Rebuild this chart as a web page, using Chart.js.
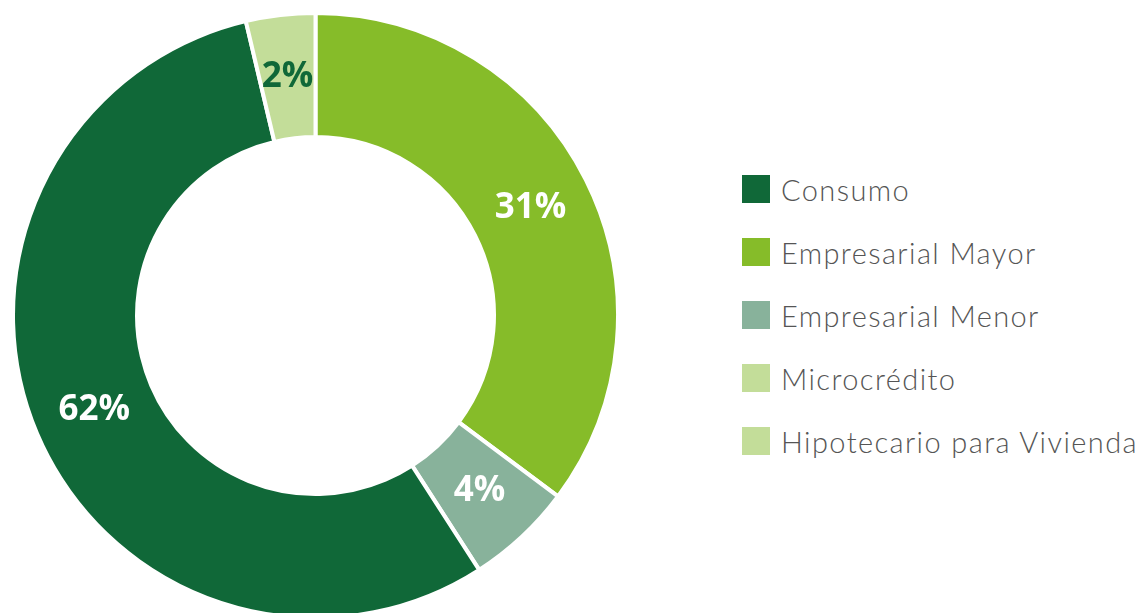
<!DOCTYPE html>
<html lang="es">
<head>
<meta charset="utf-8">
<title>Cartera por modalidad</title>
<script src="https://cdn.jsdelivr.net/npm/chart.js@4/dist/chart.umd.min.js"></script>
<style>
    html, body {
        margin: 0;
        padding: 0;
        width: 1142px;
        height: 613px;
        overflow: hidden;
        background: #ffffff;
    }
    #chartBox {
        position: absolute;
        left: 11px;
        top: 11px;
        width: 609px;
        height: 609px;
    }
    #legend {
        position: absolute;
        left: 742px;
        top: 175px;
        margin: 0;
        padding: 0;
        list-style: none;
        font-family: Lato, "Open Sans", sans-serif;
        font-weight: 300;
        font-size: 29px;
        letter-spacing: 1.4px;
        color: #555555;
    }
    #legend li {
        display: flex;
        align-items: center;
        height: 28px;
        margin-bottom: 35px;
        white-space: nowrap;
    }
    #legend .box {
        width: 28px;
        height: 28px;
        margin-right: 11px;
        flex: none;
    }
</style>
</head>
<body>
<div id="chartBox"><canvas id="carteraChart"></canvas></div>
<ul id="legend"></ul>

<script>
// categorias en el orden en que se dibujan (sentido horario desde arriba)
const categorias = ['Empresarial Mayor', 'Empresarial Menor', 'Consumo', 'Microcrédito', 'Hipotecario para Vivienda'];
// tamaño de cada porción
const valores = [35.2, 5.7, 55.4, 0, 3.7];
// etiquetas que muestra cada porción
const etiquetas = ['31%', '4%', '62%', '', '2%'];
const colores = ['#86bc29', '#88b29b', '#106838', '#c3dd99', '#c3dd99'];
const coloresEtiqueta = ['#ffffff', '#ffffff', '#ffffff', '#ffffff', '#106838'];
// orden de la leyenda
const ordenLeyenda = ['Consumo', 'Empresarial Mayor', 'Empresarial Menor', 'Microcrédito', 'Hipotecario para Vivienda'];

let carteraChart = null;

document.addEventListener('DOMContentLoaded', function() {
    drawChart();
    buildLegend();
});

// etiquetas dentro de cada porción
const sliceLabels = {
    id: 'sliceLabels',
    afterDatasetsDraw(chart) {
        const ctx = chart.ctx;
        const meta = chart.getDatasetMeta(0);
        ctx.save();
        ctx.font = '700 35px "Open Sans", sans-serif';
        ctx.textAlign = 'center';
        ctx.textBaseline = 'middle';
        meta.data.forEach((arc, i) => {
            if (!valores[i] || !etiquetas[i]) return;
            const pos = arc.tooltipPosition();
            ctx.fillStyle = coloresEtiqueta[i];
            ctx.fillText(etiquetas[i], pos.x, pos.y);
        });
        ctx.restore();
    }
};

function drawChart() {
    const ctx = document.getElementById('carteraChart').getContext('2d');
    if (carteraChart) {
        carteraChart.destroy();
    }
    carteraChart = new Chart(ctx, {
        type: 'doughnut',
        data: {
            labels: categorias,
            datasets: [{
                data: valores,
                backgroundColor: colores,
                borderColor: '#ffffff',
                borderWidth: 4
            }]
        },
        options: {
            responsive: true,
            maintainAspectRatio: false,
            animation: false,
            cutout: '59%',
            layout: { padding: 0 },
            plugins: {
                legend: { display: false },
                tooltip: { enabled: false }
            }
        },
        plugins: [sliceLabels]
    });
}

function buildLegend() {
    const ul = document.getElementById('legend');
    ul.innerHTML = '';
    ordenLeyenda.forEach(nombre => {
        const i = categorias.indexOf(nombre);
        const li = document.createElement('li');
        li.innerHTML = `<span class="box" style="background:${colores[i]}"></span><span>${nombre}</span>`;
        ul.appendChild(li);
    });
}
</script>
</body>
</html>
